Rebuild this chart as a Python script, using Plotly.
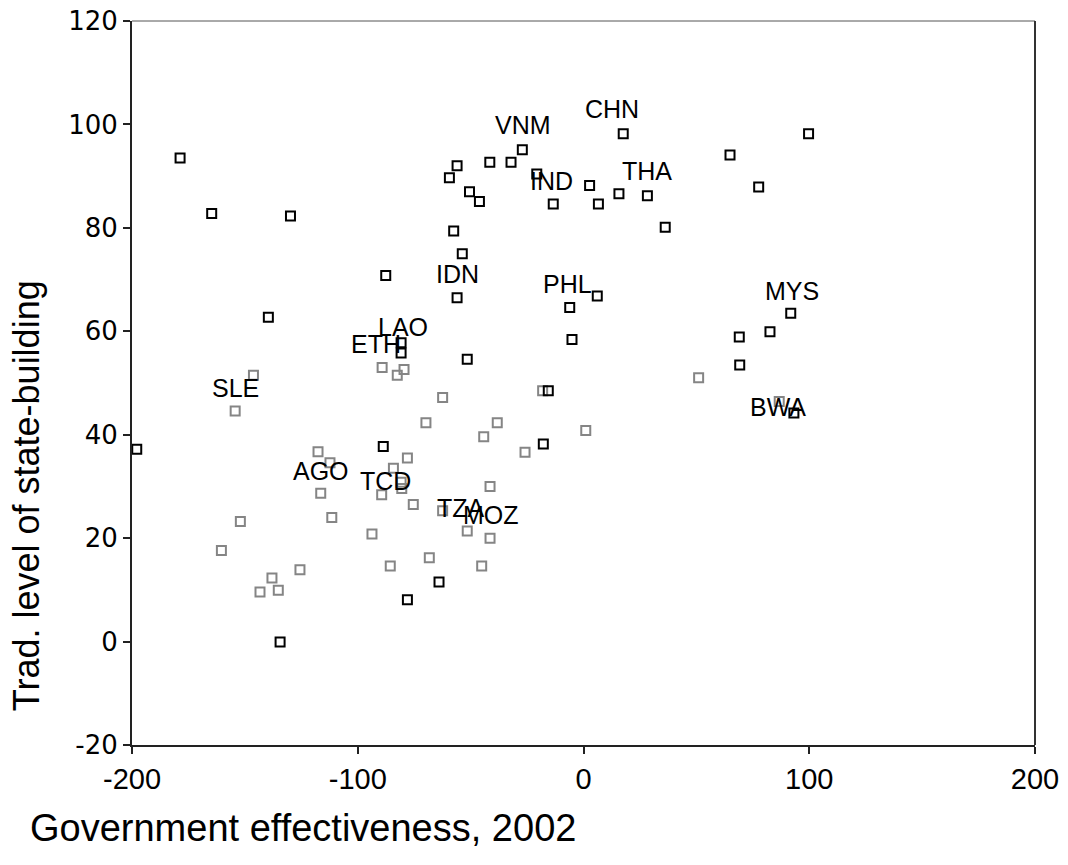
import plotly.graph_objects as go

# Black (dark) series
black_x = [-178.7, -164.7, -129.8, -139.6, -87.6, -56.0, -59.4, -50.5, -46.1, -57.5,
           -53.7, -56.0, -27.1, -41.5, -32.1, -20.7, -13.4, 2.7, 6.6, 15.7,
           28.3, 17.6, 36.2, 64.9, 77.6, 99.7, 6.1, -6.1, -5.1, 69.0,
           82.6, 91.8, 69.2, 93.2, -80.8, -80.8, -51.5, -197.9, -88.7, -17.8,
           -15.6, -64.0, -78.0, -134.4]
black_y = [93.5, 82.8, 82.3, 62.7, 70.8, 92.0, 89.7, 87.0, 85.1, 79.4,
           75.0, 66.5, 95.1, 92.7, 92.7, 90.4, 84.6, 88.2, 84.6, 86.6,
           86.2, 98.2, 80.1, 94.1, 87.9, 98.2, 66.8, 64.6, 58.4, 58.9,
           59.9, 63.5, 53.5, 44.2, 55.8, 57.8, 54.6, 37.2, 37.7, 38.2,
           48.5, 11.5, 8.1, -0.1]

# Grey series
grey_x = [-146.2, -154.3, -89.2, -79.5, -82.5, -62.4, -69.8, -38.2, -44.2, -25.9,
          -18.1, 1.0, 51.0, 86.7, -117.6, -112.3, -116.4, -111.5, -78.0, -84.2,
          -80.8, -80.5, -89.4, -75.4, -62.4, -41.4, -51.5, -41.4, -152.0, -160.4,
          -93.7, -125.6, -138.0, -143.3, -135.2, -85.6, -68.3, -45.1]
grey_y = [51.5, 44.6, 53.0, 52.6, 51.5, 47.2, 42.3, 42.3, 39.6, 36.6,
          48.5, 40.8, 51.0, 46.4, 36.7, 34.6, 28.7, 24.0, 35.5, 33.5,
          30.8, 29.6, 28.4, 26.5, 25.3, 30.0, 21.4, 20.0, 23.2, 17.6,
          20.8, 13.9, 12.3, 9.6, 9.9, 14.6, 16.2, 14.6]

# Country labels
label_text = ["VNM", "CHN", "IND", "THA", "IDN", "PHL", "MYS", "LAO", "ETH",
              "SLE", "BWA", "AGO", "TCD", "TZA", "MOZ"]
label_x = [-26.8, 12.6, -14.0, 28.1, -56.0, -7.3, 92.3, -79.9, -91.9,
           -154.3, 86.0, -116.2, -87.9, -54.2, -40.9]
label_y = [99.9, 103.0, 89.1, 91.0, 71.1, 69.2, 67.8, 60.9, 57.6,
           49.0, 45.4, 33.0, 31.1, 25.9, 24.5]

x_ticks = [-200, -100, 0, 100, 200]
x_tick_labels = ["-200", "-100", "0", "100", "200"]
y_ticks = [-20, 0, 20, 40, 60, 80, 100, 120]
y_tick_labels = ["-20", "0", "20", "40", "60", "80", "100", "120"]

x_title = "Government effectiveness, 2002"
y_title = "Trad. level of state-building"

fig = go.Figure()
fig.add_trace(go.Scatter(
    x=grey_x, y=grey_y, mode="markers", showlegend=False,
    marker=dict(symbol="square-open", size=9, color="#858585",
                line=dict(width=2, color="#858585"))))
fig.add_trace(go.Scatter(
    x=black_x, y=black_y, mode="markers", showlegend=False,
    marker=dict(symbol="square-open", size=9, color="#000000",
                line=dict(width=2, color="#000000"))))

for t, lx, ly in zip(label_text, label_x, label_y):
    fig.add_annotation(x=lx, y=ly, text=t, showarrow=False,
                       font=dict(family="Liberation Sans, Arial, sans-serif",
                                 size=25, color="#000000"),
                       xanchor="center", yanchor="middle")

# axis titles placed as in the reference
fig.add_annotation(xref="paper", yref="paper", x=-0.1152, y=-0.1146, text=x_title,
                   showarrow=False, xanchor="left", yanchor="middle",
                   font=dict(family="Liberation Sans, Arial, sans-serif", size=38, color="#000000"))
fig.add_annotation(xref="paper", yref="paper", x=-0.1174, y=0.345, text=y_title,
                   showarrow=False, textangle=-90, xanchor="center", yanchor="middle",
                   font=dict(family="Liberation Sans, Arial, sans-serif", size=36, color="#000000"))

# top / right frame lines
fig.add_shape(type="line", xref="paper", yref="paper", x0=0, x1=1, y0=1, y1=1,
              line=dict(color="#555555", width=1))
fig.add_shape(type="line", xref="paper", yref="paper", x0=1, x1=1, y0=0, y1=1,
              line=dict(color="#333333", width=2))

fig.update_layout(
    width=1060, height=857,
    margin=dict(l=124, r=33, t=13, b=120),
    paper_bgcolor="white", plot_bgcolor="white",
    xaxis=dict(range=[-200, 200], tickvals=x_ticks, ticktext=x_tick_labels,
               showgrid=False, zeroline=False, automargin=False,
               ticklabeloverflow="allow",
               showline=True, linecolor="#222222", linewidth=2,
               ticks="outside", ticklen=7, tickwidth=2, tickcolor="#222222",
               tickfont=dict(family="Liberation Sans, Arial, sans-serif",
                             size=29, color="#000000")),
    yaxis=dict(range=[-20, 120], tickvals=y_ticks, ticktext=y_tick_labels,
               showgrid=False, zeroline=False, automargin=False,
               ticklabeloverflow="allow",
               showline=True, linecolor="#222222", linewidth=2,
               ticks="outside", ticklen=7, tickwidth=2, tickcolor="#222222",
               tickfont=dict(family="DejaVu Sans, sans-serif", size=26, color="#000000")),
)

fig.write_html("out.html")
